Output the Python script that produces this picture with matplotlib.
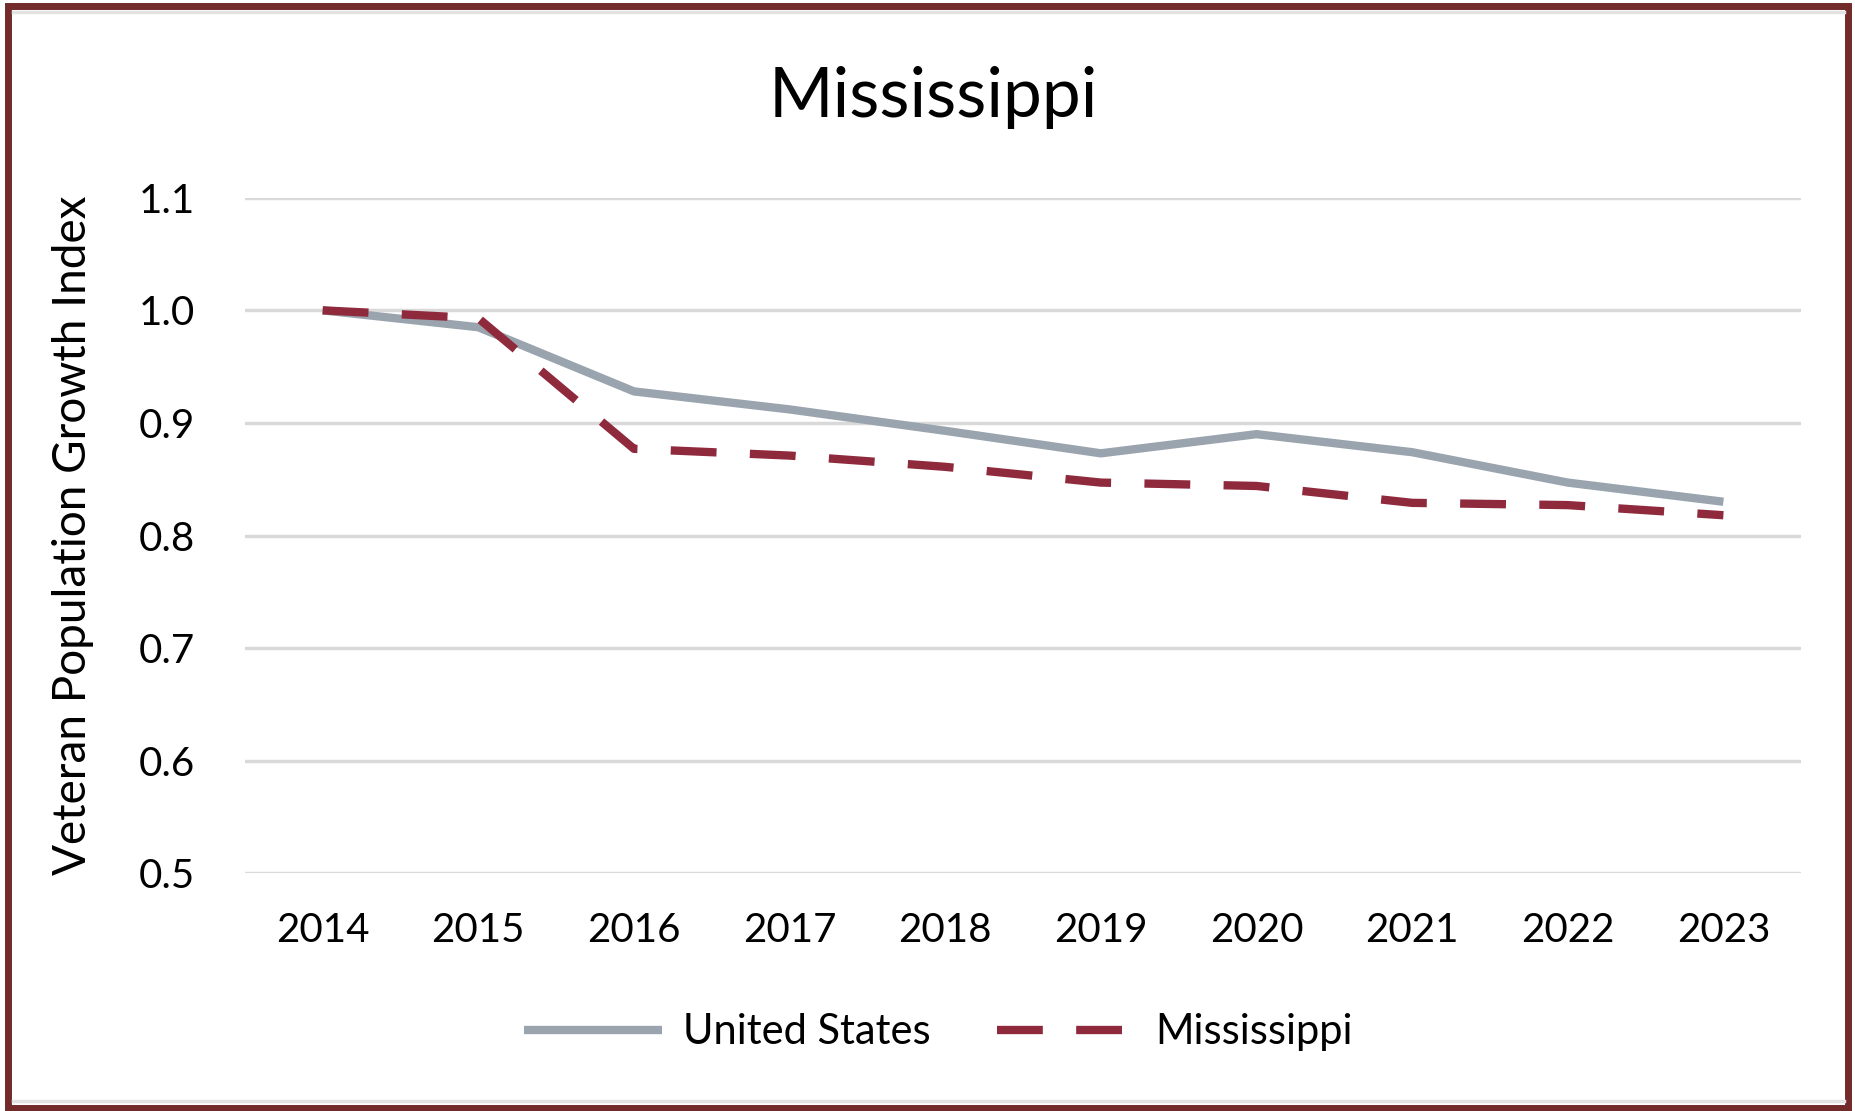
import numpy as np
import matplotlib
matplotlib.use("Agg")
import matplotlib.pyplot as plt
from matplotlib.patches import Rectangle
from matplotlib.lines import Line2D

years = ["2014", "2015", "2016", "2017", "2018", "2019", "2020", "2021", "2022", "2023"]
us_index = [1.0, 0.985, 0.928, 0.912, 0.893, 0.873, 0.890, 0.874, 0.847, 0.830]
ms_index = [1.0, 0.993, 0.877, 0.871, 0.861, 0.847, 0.844, 0.829, 0.827, 0.818]
yticks = [0.5, 0.6, 0.7, 0.8, 0.9, 1.0, 1.1]

us_color = "#9aa4ae"
ms_color = "#8f2a3d"
border_color = "#722a2a"

plt.rcParams['font.family'] = ['Lato', 'DejaVu Sans']

fig = plt.figure(figsize=(18.55, 11.11), dpi=100)
ax = fig.add_axes([0.132, 0.214, 0.839, 0.608])

x = np.arange(len(years))
ax.plot(x, us_index, color=us_color, lw=6, solid_capstyle='butt',
        label="United States", zorder=3)
ax.plot(x, ms_index, color=ms_color, lw=6, dashes=(5.5, 4.0),
        dash_capstyle='butt', label="Mississippi", zorder=4)

ax.set_xlim(-0.5, len(years) - 0.5)
ax.set_ylim(0.5, 1.1)
ax.set_yticks(yticks)
ax.set_yticklabels([f"{v:.1f}" for v in yticks])
ax.set_xticks(x)
ax.set_xticklabels(years)
ax.tick_params(axis='both', length=0, labelsize=29, colors="#000000")
ax.tick_params(axis='y', pad=36)
ax.tick_params(axis='x', pad=28)
ax.grid(axis='y', color="#d9d9d9", lw=2.5, zorder=0)
for s in ax.spines.values():
    s.set_visible(False)

ax.set_ylabel("Veteran Population Growth Index", fontsize=33)
ax.yaxis.set_label_coords(-0.097, 0.5)
fig.text(0.503, 0.912, "Mississippi", ha='center', va='center', fontsize=50)

handles = [Line2D([], [], color=us_color, lw=6, solid_capstyle='butt'),
           Line2D([], [], color=ms_color, lw=6, dashes=(5.5, 4.0), dash_capstyle='butt')]
fig.legend(handles, ["United States", "Mississippi"], loc='center',
           bbox_to_anchor=(0.506, 0.071), ncol=2, frameon=False, fontsize=30,
           handlelength=3.3, columnspacing=1.6, handletextpad=0.5)

# outer frame
fig.patches.append(Rectangle((0.0045, 0.003), 0.9915, 0.992, transform=fig.transFigure,
                             fill=False, edgecolor=border_color, lw=5))
fig.lines.append(Line2D([0.007, 0.994], [0.989, 0.989], transform=fig.transFigure,
                        color="#e3e3e3", lw=2.5))
fig.lines.append(Line2D([0.007, 0.994], [0.009, 0.009], transform=fig.transFigure,
                        color="#e3e3e3", lw=2.5))

fig.savefig("out.png", dpi=100)
